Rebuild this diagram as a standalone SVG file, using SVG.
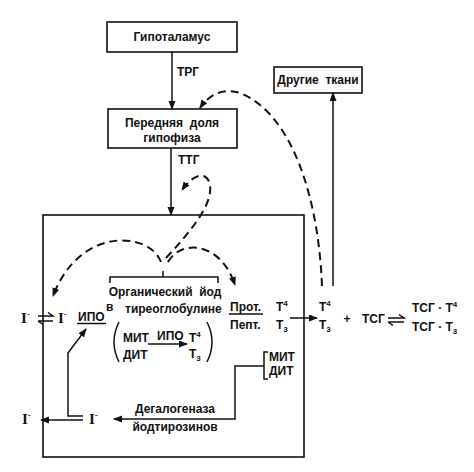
<svg xmlns="http://www.w3.org/2000/svg" width="474" height="472" viewBox="0 0 474 472">
<defs>
<style>
.t{font-family:"Liberation Sans",Arial,sans-serif;font-size:12px;font-weight:bold;fill:#111}
.c{text-anchor:middle}
.s{font-family:"Liberation Serif","Times New Roman",serif;font-size:15px;font-weight:bold;fill:#111}
.box{fill:#fff;stroke:#111;stroke-width:1.6}
.ln{fill:none;stroke:#111;stroke-width:1.5}
.ds{fill:none;stroke:#111;stroke-width:2;stroke-dasharray:8 5}
</style>
<marker id="ah" markerWidth="9" markerHeight="8" refX="8" refY="3.5" orient="auto" markerUnits="userSpaceOnUse">
<path d="M0,0 L9,3.5 L0,7 z" fill="#111"/>
</marker>
</defs>
<rect width="474" height="472" fill="#fff"/>

<g id="thyroid">
<rect class="box" x="43" y="215" width="261" height="242" fill="none"/>
</g>

<g id="hypothalamus">
<rect class="box" x="107" y="22" width="130" height="30"/>
<text class="t c" x="172" y="41">Гипоталамус</text>
</g>

<g id="pituitary">
<rect class="box" x="108" y="109" width="129" height="39"/>
<text class="t c" x="172" y="127" xml:space="preserve">Передняя  доля</text>
<text class="t c" x="172" y="142">гипофиза</text>
</g>

<g id="other-tissues">
<rect class="box" x="274" y="67" width="88" height="26"/>
<text class="t c" x="318" y="84" xml:space="preserve">Другие  ткани</text>
</g>

<g id="labels">
<text class="t" x="177" y="76">ТРГ</text>
<text class="t" x="178" y="164">ТТГ</text>
<text class="t c" x="165" y="296" xml:space="preserve">Органический  йод</text>
<text class="t" x="106" y="311" font-size="11">в</text>
<text class="t" x="125" y="313">тиреоглобулине</text>
<text class="s" x="21" y="323">I<tspan font-size="9" dy="-6">-</tspan></text>
<text class="s" x="58" y="323">I<tspan font-size="9" dy="-6">-</tspan></text>
<text class="t" x="78" y="321">ИПО</text>
<text class="t" x="123" y="342">МИТ</text>
<text class="t" x="157" y="340">ИПО</text>
<text class="t" x="123" y="359">ДИТ</text>
<text class="t" x="189" y="342">T<tspan font-size="8" dy="-5">4</tspan></text>
<text class="t" x="189" y="358">T<tspan font-size="8" dy="3">3</tspan></text>
<text class="t" x="230" y="311">Прот.</text>
<text class="t" x="230" y="329">Пепт.</text>
<text class="t" x="276" y="311">T<tspan font-size="8" dy="-5">4</tspan></text>
<text class="t" x="276" y="329">T<tspan font-size="8" dy="3">3</tspan></text>
<text class="t" x="319" y="311">T<tspan font-size="8" dy="-5">4</tspan></text>
<text class="t" x="319" y="329">T<tspan font-size="8" dy="3">3</tspan></text>
<text class="t c" x="347" y="323" font-size="14">+</text>
<text class="t" x="362" y="323">ТСГ</text>
<text class="t" x="412" y="312">ТСГ · T<tspan font-size="8" dy="-5">4</tspan></text>
<text class="t" x="412" y="331">ТСГ · T<tspan font-size="8" dy="3">3</tspan></text>
<text class="t" x="269" y="361">МИТ</text>
<text class="t" x="269" y="375">ДИТ</text>
<text class="t c" x="175" y="413">Дегалогеназа</text>
<text class="t c" x="175" y="431">йодтирозинов</text>
<text class="s" x="22" y="424">I<tspan font-size="9" dy="-6">-</tspan></text>
<text class="s" x="89" y="424">I<tspan font-size="9" dy="-6">-</tspan></text>
</g>

<g id="connectors">
<line class="ln" x1="172" y1="52" x2="172" y2="109" marker-end="url(#ah)"/>
<line class="ln" x1="171" y1="148" x2="171" y2="215" marker-end="url(#ah)"/>
<line class="ln" x1="333" y1="286" x2="333" y2="93" marker-end="url(#ah)"/>
<path class="ds" d="M322 286 C319 205 295 115 240 93 C222 87 208 96 200 108" marker-end="url(#ah)"/>
<path class="ds" d="M166 258 C190 232 213 205 210 185 C207 170 193 174 182 190" marker-end="url(#ah)"/>
<path class="ds" d="M161 262 C150 232 80 225 53 296" marker-end="url(#ah)"/>
<path class="ds" d="M168 262 C180 240 220 240 235 285" marker-end="url(#ah)"/>
<path class="ln" d="M110 283 V277 H218 V283 M163 277 V271"/>
<line class="ln" x1="77" y1="323.5" x2="106" y2="323.5"/>
<path class="ln" d="M38 316 H53 L48 312.5 M38 321 H53 M38 321 L43 324.5"/>
<path class="ln" d="M119 322 Q109 342 119 362 M207 322 Q217 342 207 362"/>
<line class="ln" x1="148" y1="344" x2="187" y2="344" marker-end="url(#ah)"/>
<line class="ln" x1="229" y1="314" x2="263" y2="314"/>
<line class="ln" x1="290" y1="318" x2="317" y2="318" marker-end="url(#ah)"/>
<path class="ln" d="M388 318 H404 L399 314.5 M388 322 H404 M388 322 L393 325.5"/>
<path class="ln" d="M268 352 H264 V379 H268 M264 366 H235 V419 H114" marker-end="url(#ah)"/>
<line class="ln" x1="83" y1="420" x2="41" y2="420" marker-end="url(#ah)"/>
<path class="ln" d="M83 416 H68 V353 L86 329" marker-end="url(#ah)"/>
</g>
</svg>
